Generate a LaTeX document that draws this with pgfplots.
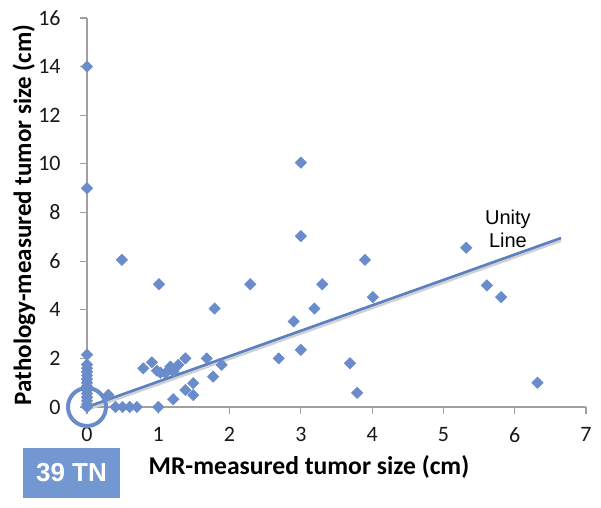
\documentclass[border=0pt]{standalone}
\usepackage{pgfplots}
\pgfplotsset{compat=1.18}
\usepackage{fontspec}
\setmainfont{Carlito}
\newfontfamily\arialfont{Liberation Sans}
\definecolor{mk}{HTML}{6A8CCB}
\definecolor{ln}{HTML}{5A80C0}
\definecolor{bx}{HTML}{7397D1}
\definecolor{ax}{HTML}{A0A0A0}
\begin{document}
\begin{tikzpicture}
\useasboundingbox (-43.5pt,-50.5pt) rectangle (257pt,203.5pt);
\begin{axis}[
  scale only axis, width=249.5pt, height=194.5pt,
  xmin=0, xmax=7, ymin=0, ymax=16,
  axis x line*=bottom, axis y line*=left,
  xtick={0,1,...,7}, ytick={0,2,...,16},
  tick align=outside, major tick length=3.5pt,
  tick style={ax, line width=0.6pt},
  axis line style={ax, line width=0.8pt},
  /pgf/number format/assume math mode=true,
  ticklabel style={font=\fontsize{11}{13}\selectfont, text=black!90},
  xticklabel style={inner sep=0pt, yshift=-6.5pt},
  yticklabel style={inner sep=0pt, xshift=-9.5pt},
  clip=false,
]
\addplot[only marks, mark=square*, mark size=1.95pt, color=mk, mark options={rotate=45, fill=mk, draw=mk}] coordinates {
(0,14) (0,9) (0,2.15) (0,1.75) (0,1.6) (0,1.45) (0,1.3) (0,1.15) (0,1.0) (0,0.85) (0,0.7) (0,0.55) (0,0.4) (0,0.25) (0,0.1) (0,0)
(0.4,0) (0.5,0) (0.6,0) (0.7,0) (1.0,0)
(0.3,0.5)
(0.79,1.59) (0.91,1.84) (0.98,1.49) (1.03,1.41) (1.10,1.39) (1.17,1.66) (1.21,1.45) (1.28,1.73) (1.38,2.0)
(1.21,0.32) (1.38,0.70) (1.49,0.98) (1.49,0.49) (1.68,2.0) (1.77,1.25) (1.89,1.73) (2.69,2.0) (3.0,2.35)
(0.49,6.05) (1.01,5.05) (1.79,4.05) (2.29,5.05) (2.9,3.52) (3.0,10.05) (3.0,7.03) (3.19,4.05) (3.3,5.05)
(3.9,6.05) (4.01,4.52) (3.69,1.8) (3.79,0.58) (5.32,6.55) (5.61,5.0) (5.81,4.52) (6.32,1.0)
};
\addplot[no marks, color=black!18, line width=1.6pt, yshift=-1.2pt] coordinates {(0,0) (6.65,6.95)};
\addplot[no marks, color=ln, line width=1.3pt] coordinates {(0,0) (6.65,6.95)};
\addplot[only marks, mark=o, mark size=9.5pt, mark options={line width=2pt, draw=mk}] coordinates {(0,0)};
\node[align=center, font=\arialfont\fontsize{10}{11.3}\selectfont] at (axis cs:5.905,7.32) {Unity\\Line};
\end{axis}
\node[rotate=90, font=\bfseries\fontsize{12.5}{15}\selectfont] at (-31.5pt,96pt) {Pathology-measured tumor size (cm)};
\node[font=\bfseries\fontsize{12.8}{15}\selectfont] at (111pt,-30pt) {MR-measured tumor size (cm)};
\fill[bx] (-32pt,-20.5pt) rectangle (16.5pt,-45.5pt);
\node[text=white, font=\arialfont\bfseries\fontsize{13}{15}\selectfont] at (-7.75pt,-33pt) {39 TN};
\end{tikzpicture}
\end{document}
